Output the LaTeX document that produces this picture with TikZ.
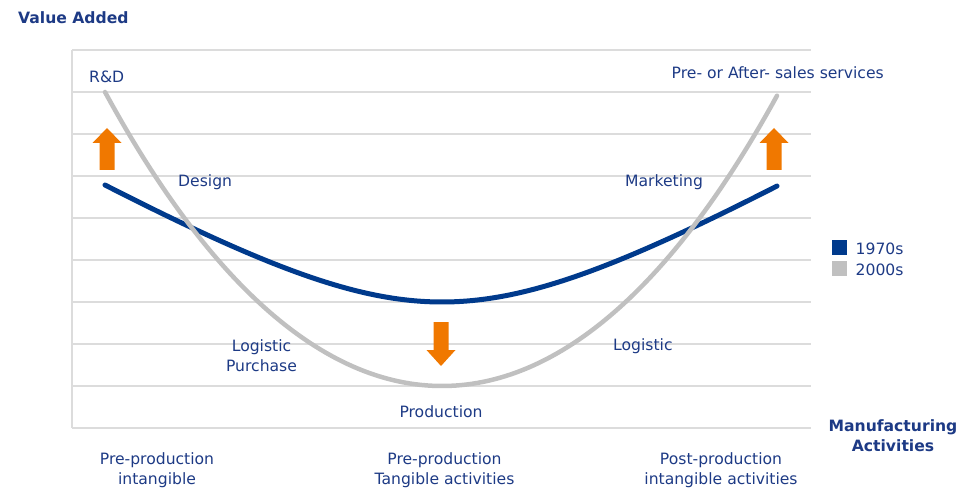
\documentclass[tikz,border=0pt]{standalone}
\usepackage{fontspec}
\setmainfont{DejaVu Sans}

\definecolor{ink}{HTML}{1D3A85}
\definecolor{navy}{HTML}{003A8C}
\definecolor{silver}{HTML}{C0C0C0}
\definecolor{rule}{HTML}{DCDCDC}
\definecolor{boost}{HTML}{F07800}

\begin{document}
\begin{tikzpicture}[x=1pt,y=-1pt,
    lbl/.style={text=ink,font=\fontsize{15.6}{20}\selectfont,inner sep=0pt},
    head/.style={lbl,font=\fontsize{15.6}{20}\selectfont\bfseries},
    gridline/.style={draw=rule,line width=1.2pt},
    curve70/.style={draw=navy,line width=5pt,line cap=round},
    curve00/.style={draw=silver,line width=4.5pt,line cap=round},
    keybox/.style={minimum size=15pt,inner sep=0pt}]
    \useasboundingbox (0,0) rectangle (960,489);

    % grid
    \foreach \y in {50,92,...,428}
        \draw[gridline] (72,\y) -- (811,\y);
    \draw[gridline] (72,50) -- (72,428);

    % curves (1970s flat, 2000s deep)
    \draw[curve70] plot[domain=105:777,samples=120]
        (\x,{302-57.9*(sqrt(3.24+((\x-442)/100)^2)-1.8)});
    \draw[curve00] plot[domain=105:777,samples=120]
        (\x,{386-24.52*((\x-442)/100)^2-0.1202*((\x-442)/100)^4});

    % arrows
    \fill[boost] (99.5,170) -- (99.5,143) -- (92.5,143) -- (107,128) -- (121.5,143)
        -- (114.5,143) -- (114.5,170) -- cycle;
    \fill[boost] (766.5,170) -- (766.5,143) -- (759.5,143) -- (774,128) -- (788.5,143)
        -- (781.5,143) -- (781.5,170) -- cycle;
    \fill[boost] (433.5,322) -- (433.5,350) -- (426.5,350) -- (441,366) -- (455.5,350)
        -- (448.5,350) -- (448.5,322) -- cycle;

    % labels
    \node[head,anchor=base west] (va) at (18,24) {Value Added};
    \node[lbl,anchor=base west] (rd) at (89,83) {R\&D};
    \node[lbl,anchor=base west] (design) at (178,186) {Design};
    \node[lbl,anchor=base west] (mkt) at (625,186) {Marketing};
    \node[lbl,anchor=base west] (svc) at (671.5,79) {Pre- or After- sales services};
    \node[lbl,anchor=base,align=center] (logl) at (261.5,371) {Logistic\\Purchase};
    \node[lbl,anchor=base west] (logr) at (613,350) {Logistic};
    \node[lbl,anchor=base] (prod) at (441,417) {Production};
    \node[lbl,anchor=base,align=center] (pre1) at (157,484) {Pre-production\\intangible};
    \node[lbl,anchor=base,align=center] (pre2) at (444.5,484) {Pre-production\\Tangible activities};
    \node[lbl,anchor=base,align=center] (post) at (721,484) {Post-production\\intangible activities};
    \node[head,anchor=base,align=center] (mfg) at (893,451) {Manufacturing\\Activities};

    % legend
    \node[keybox,fill=navy] (k70) at (839,247.5) {};
    \node[keybox,fill=silver] (k00) at (839,268) {};
    \node[lbl,anchor=base west] (t70) at (855.5,254) {1970s};
    \node[lbl,anchor=base west] (t00) at (855.5,275) {2000s};
\end{tikzpicture}
\end{document}
